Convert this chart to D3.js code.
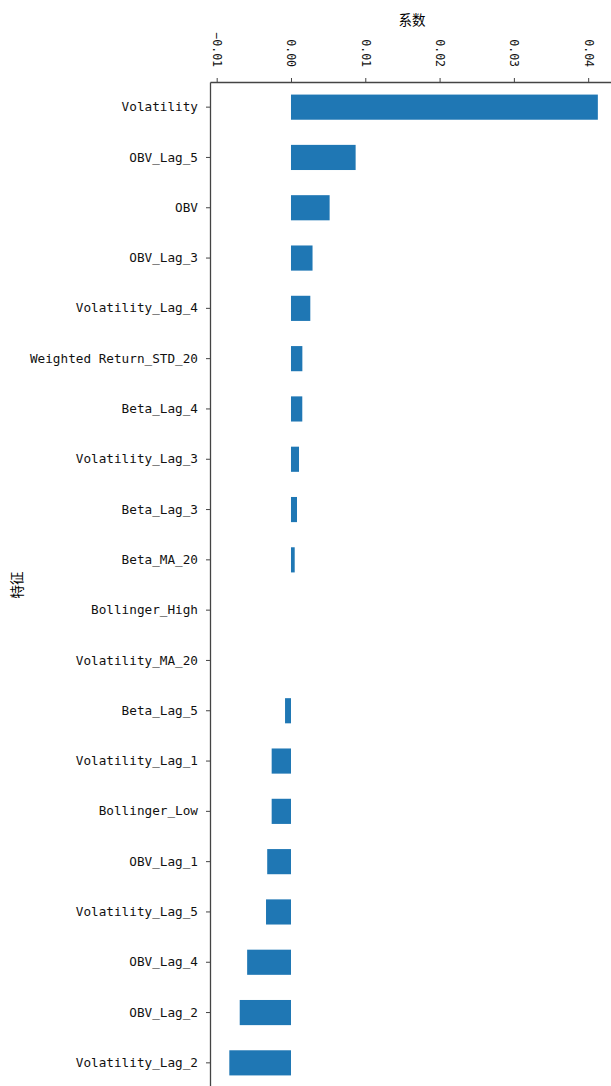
<!DOCTYPE html>
<html lang="zh">
  <head>
    <meta charset="UTF-8" />
    <title>系数</title>
    <script src="https://cdn.jsdelivr.net/npm/d3@7"></script>
    <style>
      body { margin: 0; background: #fff; }
      .tick text { font-family: "DejaVu Sans Mono", monospace; fill: #111; }
      .domain, .tick line { stroke: #444; }
    </style>
  </head>
  <body>
    <svg id="container" width="611" height="1086"></svg>
    <script>
      // features, top to bottom
      const features = [
        "Volatility", "OBV_Lag_5", "OBV", "OBV_Lag_3", "Volatility_Lag_4",
        "Weighted Return_STD_20", "Beta_Lag_4", "Volatility_Lag_3", "Beta_Lag_3",
        "Beta_MA_20", "Bollinger_High", "Volatility_MA_20", "Beta_Lag_5",
        "Volatility_Lag_1", "Bollinger_Low", "OBV_Lag_1", "Volatility_Lag_5",
        "OBV_Lag_4", "OBV_Lag_2", "Volatility_Lag_2"
      ];
      const coefs = [
        0.0413, 0.0087, 0.0052, 0.0029, 0.0026,
        0.00153, 0.00152, 0.00108, 0.00081,
        0.0005, 0, 0, -0.0008,
        -0.0026, -0.0026, -0.0032, -0.00336,
        -0.0059, -0.0069, -0.0083
      ];
      const xTicks = [-0.01, 0, 0.01, 0.02, 0.03, 0.04];
      const xLabel = "系数";
      const yLabel = "特征";

      const svg = d3.select("#container");
      const plotLeft = 210, plotTop = 82, step = 50.3;
      const pxPerUnit = 7430;
      const xDomain = [-0.0109, 0.0435];

      const x = d3.scaleLinear()
        .domain(xDomain)
        .range([plotLeft, plotLeft + (xDomain[1] - xDomain[0]) * pxPerUnit]);

      const y = d3.scaleBand()
        .domain(features)
        .range([plotTop, plotTop + features.length * step])
        .paddingInner(0.5)
        .paddingOuter(0.25);

      // bars
      svg.append("g")
        .selectAll("rect")
        .data(features)
        .enter()
        .append("rect")
        .attr("x", (d, i) => x(Math.min(0, coefs[i])))
        .attr("y", (d) => y(d))
        .attr("width", (d, i) => Math.abs(x(coefs[i]) - x(0)))
        .attr("height", y.bandwidth())
        .attr("fill", "#1f77b4");

      // top axis with rotated labels
      const xAxis = svg.append("g")
        .attr("transform", `translate(0,${plotTop})`)
        .call(d3.axisTop(x).tickValues(xTicks).tickFormat(d3.format(".2f"))
          .tickSize(4).tickSizeOuter(0));
      xAxis.selectAll(".tick text")
        .attr("transform", "rotate(90)")
        .attr("x", -15)
        .attr("y", 0)
        .attr("dy", "0.35em")
        .attr("text-anchor", "end")
        .style("font-size", "11.5px");
      xAxis.select(".domain").attr("stroke-width", 1.3);

      // left axis
      const yAxis = svg.append("g")
        .attr("transform", `translate(${plotLeft},0)`)
        .call(d3.axisLeft(y).tickSize(4).tickSizeOuter(0).tickPadding(8));
      yAxis.selectAll(".tick text").style("font-size", "12.7px");
      yAxis.select(".domain").attr("stroke-width", 1.3);

      // axis titles
      svg.append("text")
        .attr("x", (x.range()[0] + x.range()[1]) / 2)
        .attr("y", 25)
        .attr("text-anchor", "middle")
        .style("font-family", "'Noto Sans CJK SC'")
        .style("font-size", "13.5px")
        .text(xLabel);

      svg.append("text")
        .attr("transform", `translate(22,${(y.range()[0] + y.range()[1]) / 2}) rotate(-90)`)
        .attr("text-anchor", "middle")
        .style("font-family", "'Noto Sans CJK SC'")
        .style("font-size", "13.5px")
        .text(yLabel);
    </script>
  </body>
</html>
